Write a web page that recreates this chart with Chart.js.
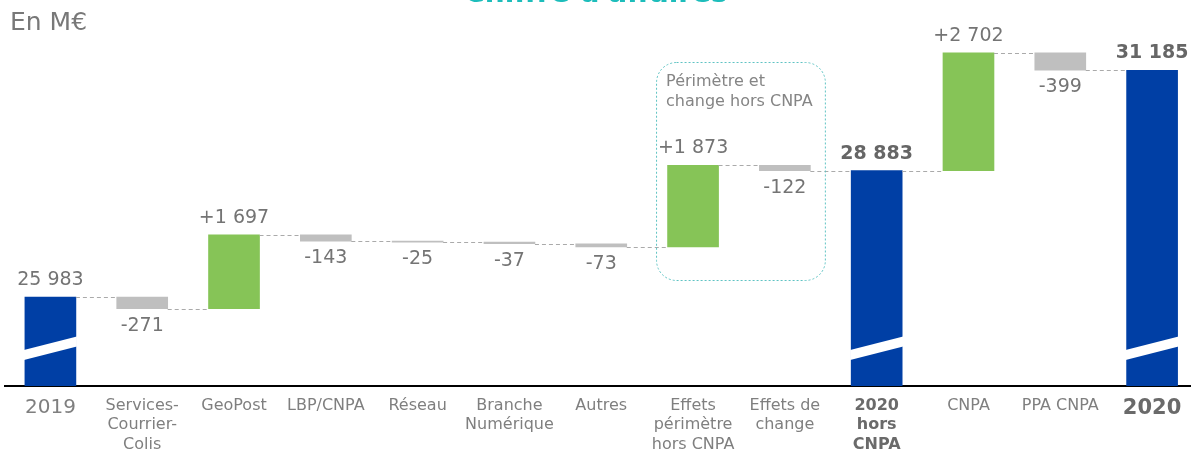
<!DOCTYPE html>
<html lang="fr">
<head>
<meta charset="utf-8">
<title>Chiffre d'affaires</title>
<script src="https://cdn.jsdelivr.net/npm/chart.js@4/dist/chart.umd.min.js"></script>
<style>
  html, body { margin: 0; padding: 0; background: #fff; overflow: hidden; }
  #wrap { position: absolute; left: 0; top: 0; width: 1200px; height: 450px; }
</style>
</head>
<body>
<div id="wrap"><canvas id="caChart"></canvas></div>
<script>
// Catégories du pont de chiffre d'affaires (M€)
const categories = [
    '2019',
    ['Services-', 'Courrier-', 'Colis'],
    'GeoPost',
    'LBP/CNPA',
    'Réseau',
    ['Branche', 'Numérique'],
    'Autres',
    ['Effets', 'périmètre', 'hors CNPA'],
    ['Effets de', 'change'],
    ['2020', 'hors', 'CNPA'],
    'CNPA',
    'PPA CNPA',
    '2020'
];

// Totaux (barres bleues) et variations (vert / gris)
const totals = [25983, null, null, null, null, null, null, null, null, 28883, null, null, 31185];
const changes = [null, -271, 1697, -143, -25, -37, -73, 1873, -122, null, 2702, -399, null];

const BLUE = '#003FA5';
const GREEN = '#86C457';
const GREY = '#BFBFBF';
const TEXT = '#747474';
const FONT = "'DejaVu Sans', sans-serif";

// Construire les barres flottantes [début, fin]
let level = 0;
const levels = [];
const bars = categories.map((c, i) => {
    if (totals[i] !== null) {
        level = totals[i];
        levels.push(level);
        return [0, totals[i]];
    }
    const start = level;
    level += changes[i];
    levels.push(level);
    return [start, level];
});

const colors = categories.map((c, i) => {
    if (totals[i] !== null) return BLUE;
    return changes[i] >= 0 ? GREEN : GREY;
});

// Format "25 983" / "+1 697" / "-271"
function formatValue(v, signed) {
    const s = Math.abs(v).toString().replace(/\B(?=(\d{3})+(?!\d))/g, ' ');
    if (!signed) return s;
    return (v >= 0 ? '+' : '-') + s;
}

// Étiquettes, connecteurs, coupures d'axe et encadré
const waterfallExtras = {
    id: 'waterfallExtras',
    afterDatasetsDraw(chart) {
        const ctx = chart.ctx;
        const meta = chart.getDatasetMeta(0);
        const y = chart.scales.y;
        const x = chart.scales.x;
        const axisY = chart.chartArea.bottom;

        ctx.save();

        // Connecteurs pointillés entre barres
        ctx.strokeStyle = '#aaaaaa';
        ctx.lineWidth = 1;
        ctx.setLineDash([4, 3]);
        for (let i = 0; i < meta.data.length - 1; i++) {
            const a = meta.data[i];
            const b = meta.data[i + 1];
            const py = Math.round(y.getPixelForValue(levels[i])) + 0.5;
            ctx.beginPath();
            ctx.moveTo(a.x + a.width / 2, py);
            ctx.lineTo(b.x - b.width / 2, py);
            ctx.stroke();
        }
        ctx.setLineDash([]);

        // Coupure sur les barres de total
        ctx.fillStyle = '#fff';
        meta.data.forEach((bar, i) => {
            if (totals[i] === null) return;
            const l = bar.x - bar.width / 2 - 1;
            const r = bar.x + bar.width / 2 + 1;
            ctx.beginPath();
            ctx.moveTo(l, axisY - 26);
            ctx.lineTo(l, axisY - 36);
            ctx.lineTo(r, axisY - 49.5);
            ctx.lineTo(r, axisY - 39.5);
            ctx.closePath();
            ctx.fill();
        });

        // Valeurs
        ctx.textAlign = 'center';
        ctx.textBaseline = 'middle';
        meta.data.forEach((bar, i) => {
            const top = Math.min(bar.y, bar.base);
            const bottom = Math.max(bar.y, bar.base);
            if (totals[i] !== null) {
                const bold = i > 0;
                ctx.fillStyle = bold ? '#666' : TEXT;
                ctx.font = (bold ? 'bold ' : '') + '19px ' + FONT;
                ctx.fillText(formatValue(totals[i], false), bar.x, top - 17);
            } else if (changes[i] >= 0) {
                ctx.fillStyle = TEXT;
                ctx.font = '19px ' + FONT;
                ctx.fillText(formatValue(changes[i], true), bar.x, top - 17);
            } else {
                ctx.fillStyle = TEXT;
                ctx.font = '19px ' + FONT;
                ctx.fillText(formatValue(changes[i], true), bar.x, bottom + 17);
            }
        });

        // Encadré "Périmètre et change hors CNPA"
        const boxL = x.getPixelForValue(7) - 37;
        const boxR = x.getPixelForValue(8) + 40;
        ctx.strokeStyle = '#5fc3c3';
        ctx.setLineDash([2, 2]);
        ctx.beginPath();
        ctx.roundRect(boxL + 0.5, 62.5, boxR - boxL, 218, 20);
        ctx.stroke();
        ctx.setLineDash([]);
        ctx.textAlign = 'left';
        ctx.fillStyle = '#858585';
        ctx.font = '16px ' + FONT;
        ctx.fillText('Périmètre et', boxL + 10, 82);
        ctx.fillText('change hors CNPA', boxL + 10, 101.5);

        // Unité et titre
        ctx.fillStyle = '#787878';
        ctx.font = '25px ' + FONT;
        ctx.fillText('En M€', 10, 23);
        ctx.textAlign = 'center';
        ctx.textBaseline = 'alphabetic';
        ctx.fillStyle = '#1dbdbb';
        ctx.font = 'bold 28px ' + FONT;
        ctx.fillText("Chiffre d'affaires", 596, 2);

        ctx.restore();
    }
};

const tickFont = (c) => {
    if (c.index === 0) return { family: FONT, size: 20, lineHeight: 1.22 };
    if (c.index === 9) return { family: FONT, size: 16, weight: 'bold', lineHeight: 1.22 };
    if (c.index === 12) return { family: FONT, size: 21, weight: 'bold', lineHeight: 1.22 };
    return { family: FONT, size: 16, lineHeight: 1.22 };
};

new Chart(document.getElementById('caChart'), {
    type: 'bar',
    data: {
        labels: categories,
        datasets: [{
            data: bars,
            backgroundColor: colors,
            borderWidth: 0,
            barThickness: 51
        }]
    },
    options: {
        responsive: true,
        maintainAspectRatio: false,
        animation: false,
        layout: { padding: { top: 30, left: 4.5, right: 2, bottom: 0 } },
        plugins: {
            legend: { display: false },
            tooltip: { enabled: false },
            title: { display: false }
        },
        scales: {
            x: {
                grid: { display: false, drawTicks: false },
                border: { display: true, color: '#000', width: 2 },
                ticks: {
                    autoSkip: false,
                    maxRotation: 0,
                    padding: 10,
                    font: tickFont,
                    color: (c) => (c.index === 9 || c.index === 12) ? '#6a6a6a' : '#7f7f7f'
                },
                afterFit(scale) { scale.height = 64; }
            },
            y: {
                display: false,
                min: 23940,
                max: 32110
            }
        }
    },
    plugins: [waterfallExtras]
});
</script>
</body>
</html>
